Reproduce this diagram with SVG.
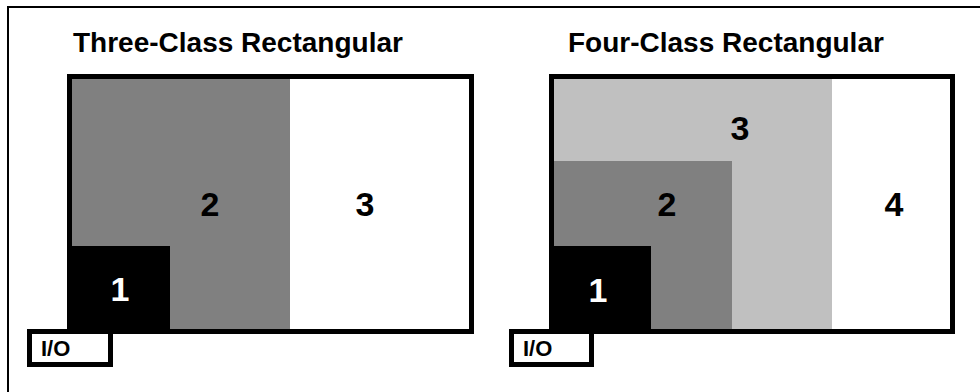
<svg xmlns="http://www.w3.org/2000/svg" width="980" height="392" viewBox="0 0 980 392">
  <style>
    .frame { fill: none; stroke: #000; stroke-width: 2; }
    .box { fill: none; stroke: #000; stroke-width: 5; }
    .io { fill: #fff; stroke: #000; stroke-width: 5; }
    .title { font-family: "Liberation Sans", Arial, sans-serif; font-weight: bold; font-size: 28px; fill: #000; }
    .num { font-family: "Liberation Sans", Arial, sans-serif; font-weight: bold; font-size: 34px; text-anchor: middle; }
    .iot { font-family: "Liberation Sans", Arial, sans-serif; font-weight: bold; font-size: 22px; fill: #000; }
    .black { fill: #000; }
    .dark { fill: #808080; }
    .light { fill: #c0c0c0; }
  </style>

  <rect width="980" height="392" fill="#fff"/>
  <!-- outer frame, runs off the right and bottom edges -->
  <rect class="frame" x="8" y="7" width="1000" height="400"/>

  <!-- three-class layout -->
  <g id="three-class">
    <text class="title" x="73" y="52">Three-Class Rectangular</text>
    <g id="tc-class2">
      <rect class="dark" x="72" y="79" width="218" height="250"/>
      <text class="num" x="210" y="216" fill="#000">2</text>
    </g>
    <g id="tc-class1">
      <rect class="black" x="72" y="246" width="98" height="83"/>
      <text class="num" x="120" y="301" fill="#fff">1</text>
    </g>
    <g id="tc-class3">
      <text class="num" x="365" y="216" fill="#000">3</text>
    </g>
    <rect class="box" x="69.5" y="76.5" width="402" height="255"/>
    <g id="tc-io">
      <rect class="io" x="29.5" y="331.5" width="81" height="33"/>
      <text class="iot" x="41" y="356">I/O</text>
    </g>
  </g>

  <!-- four-class layout -->
  <g id="four-class">
    <text class="title" x="568" y="52">Four-Class Rectangular</text>
    <g id="fc-class3">
      <rect class="light" x="554" y="79" width="278" height="250"/>
      <text class="num" x="740" y="140" fill="#000">3</text>
    </g>
    <g id="fc-class2">
      <rect class="dark" x="554" y="161" width="178" height="168"/>
      <text class="num" x="667" y="216" fill="#000">2</text>
    </g>
    <g id="fc-class1">
      <rect class="black" x="554" y="246" width="97" height="83"/>
      <text class="num" x="598" y="302" fill="#fff">1</text>
    </g>
    <g id="fc-class4">
      <text class="num" x="894" y="216" fill="#000">4</text>
    </g>
    <rect class="box" x="551.5" y="76.5" width="401" height="255"/>
    <g id="fc-io">
      <rect class="io" x="511.5" y="331.5" width="80" height="33"/>
      <text class="iot" x="523" y="356">I/O</text>
    </g>
  </g>

  <!-- no connectors in this figure -->
  <g id="connectors"/>
</svg>
